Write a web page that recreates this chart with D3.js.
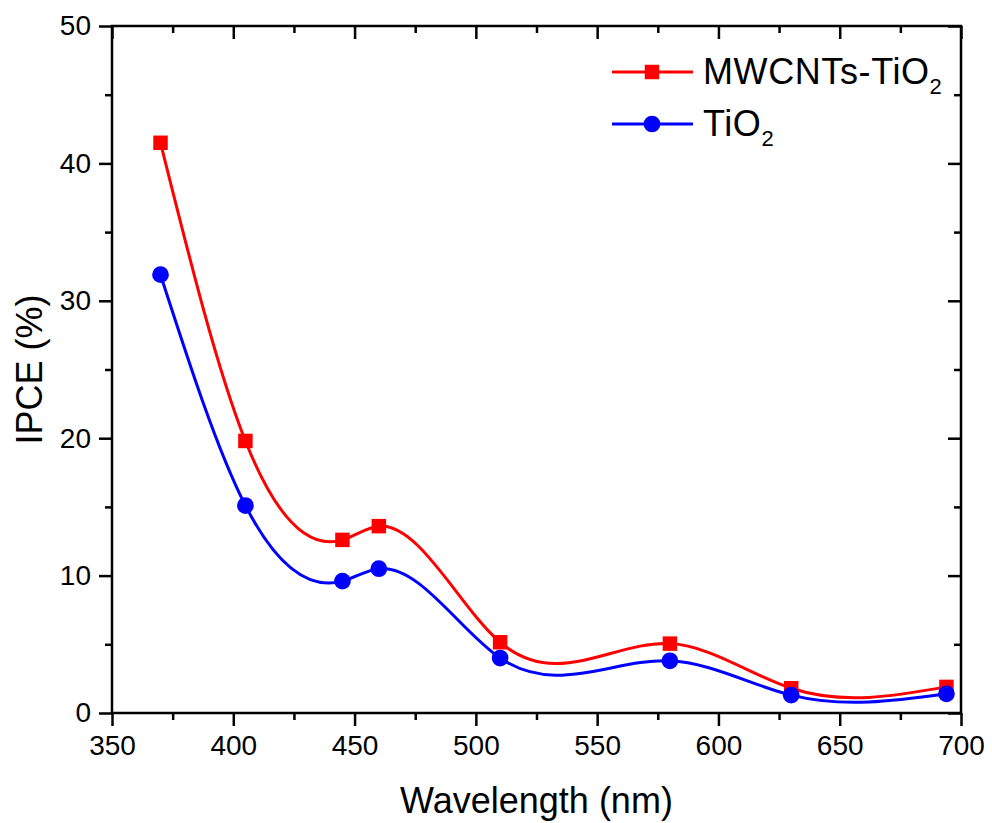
<!DOCTYPE html>
<html>
<head>
<meta charset="utf-8">
<script src="https://cdn.jsdelivr.net/npm/d3@7"></script>
<style>
  body { margin: 0; background: #fff; }
  svg { font-family: "Liberation Sans", Arial, sans-serif; }
</style>
</head>
<body>
<script>
// wavelengths (nm) and IPCE values (%)
const wavelength = [370, 405, 445, 460, 510, 580, 630, 694];
const ipceComposite = [41.5, 19.8, 12.6, 13.6, 5.15, 5.05, 1.8, 1.9];
const ipceTiO2 = [31.9, 15.1, 9.6, 10.5, 4.0, 3.8, 1.3, 1.4];
const xTicks = [350, 400, 450, 500, 550, 600, 650, 700];
const yTicks = [0, 10, 20, 30, 40, 50];

const width = 992, height = 823;
const margin = { top: 26, right: 31, bottom: 110, left: 112 };

// natural cubic spline y(x) as a d3 curve, drawn with exact bezier segments
function curveSplineX(context) {
    let xs, ys;
    return {
        areaStart() {}, areaEnd() {},
        lineStart() { xs = []; ys = []; },
        point(px, py) { xs.push(+px); ys.push(+py); },
        lineEnd() {
            const n = xs.length;
            if (!n) return;
            context.moveTo(xs[0], ys[0]);
            if (n < 3) { if (n === 2) context.lineTo(xs[1], ys[1]); return; }
            const h = [];
            for (let i = 0; i < n - 1; i++) h.push(xs[i + 1] - xs[i]);
            // solve for second derivatives (natural ends)
            const M = new Array(n).fill(0);
            const a = [], b = [], c = [], r = [];
            for (let i = 1; i < n - 1; i++) {
                a.push(h[i - 1]);
                b.push(2 * (h[i - 1] + h[i]));
                c.push(h[i]);
                r.push(6 * ((ys[i + 1] - ys[i]) / h[i] - (ys[i] - ys[i - 1]) / h[i - 1]));
            }
            const m = b.length;
            for (let i = 1; i < m; i++) {
                const w = a[i] / b[i - 1];
                b[i] -= w * c[i - 1];
                r[i] -= w * r[i - 1];
            }
            M[m] = r[m - 1] / b[m - 1];
            for (let i = m - 2; i >= 0; i--) M[i + 1] = (r[i] - c[i] * M[i + 2]) / b[i];
            for (let i = 0; i < n - 1; i++) {
                const s = (ys[i + 1] - ys[i]) / h[i];
                const d0 = s - h[i] * (2 * M[i] + M[i + 1]) / 6;
                const d1 = s + h[i] * (M[i] + 2 * M[i + 1]) / 6;
                context.bezierCurveTo(
                    xs[i] + h[i] / 3, ys[i] + d0 * h[i] / 3,
                    xs[i + 1] - h[i] / 3, ys[i + 1] - d1 * h[i] / 3,
                    xs[i + 1], ys[i + 1]);
            }
        }
    };
}

const svg = d3.select('body')
    .append('svg')
    .attr('width', width)
    .attr('height', height);

const x = d3.scaleLinear()
    .domain([350, 700])
    .range([margin.left, width - margin.right]);

const y = d3.scaleLinear()
    .domain([0, 50])
    .range([height - margin.bottom, margin.top]);

const x0 = x.range()[0], x1 = x.range()[1];
const y0 = y.range()[0], y1 = y.range()[1];

// minor ticks halfway between the majors
const xMinor = d3.range(375, 700, 50);
const yMinor = d3.range(5, 50, 10);

function styleAxis(g) {
    g.select('.domain').remove();
    g.selectAll('line').attr('stroke', '#000').attr('stroke-width', 2.5);
    g.selectAll('text').attr('font-size', 28).attr('fill', '#000');
}

// bottom
svg.append('g')
    .attr('transform', `translate(0,${y0})`)
    .call(d3.axisBottom(x).tickValues(xTicks).tickSize(13).tickPadding(9))
    .call(styleAxis);
svg.append('g')
    .attr('transform', `translate(0,${y0})`)
    .call(d3.axisBottom(x).tickValues(xMinor).tickSize(7).tickFormat(''))
    .call(styleAxis);

// left
svg.append('g')
    .attr('transform', `translate(${x0},0)`)
    .call(d3.axisLeft(y).tickValues(yTicks).tickSize(13).tickPadding(8))
    .call(styleAxis);
svg.append('g')
    .attr('transform', `translate(${x0},0)`)
    .call(d3.axisLeft(y).tickValues(yMinor).tickSize(7).tickFormat(''))
    .call(styleAxis);

// top, ticks pointing in
svg.append('g')
    .attr('transform', `translate(0,${y1})`)
    .call(d3.axisBottom(x).tickValues(xTicks).tickSize(13).tickFormat(''))
    .call(styleAxis);
svg.append('g')
    .attr('transform', `translate(0,${y1})`)
    .call(d3.axisBottom(x).tickValues(xMinor).tickSize(7).tickFormat(''))
    .call(styleAxis);

// right, ticks pointing in
svg.append('g')
    .attr('transform', `translate(${x1},0)`)
    .call(d3.axisLeft(y).tickValues(yTicks).tickSize(13).tickFormat(''))
    .call(styleAxis);
svg.append('g')
    .attr('transform', `translate(${x1},0)`)
    .call(d3.axisLeft(y).tickValues(yMinor).tickSize(7).tickFormat(''))
    .call(styleAxis);

// frame
svg.append('rect')
    .attr('x', x0)
    .attr('y', y1)
    .attr('width', x1 - x0)
    .attr('height', y0 - y1)
    .attr('fill', 'none')
    .attr('stroke', '#000')
    .attr('stroke-width', 2.5);

// axis titles
svg.append('text')
    .attr('x', (x0 + x1) / 2)
    .attr('y', 813)
    .attr('text-anchor', 'middle')
    .attr('font-size', 36)
    .text('Wavelength (nm)');

svg.append('text')
    .attr('transform', `translate(42,${(y0 + y1) / 2}) rotate(-90)`)
    .attr('text-anchor', 'middle')
    .attr('font-size', 36)
    .text('IPCE (%)');

const series = [
    { name: 'MWCNTs-TiO', values: ipceComposite, color: '#ff0000', marker: d3.symbolSquare, size: 210 },
    { name: 'TiO', values: ipceTiO2, color: '#0000ff', marker: d3.symbolCircle, size: 220 }
];

const line = d3.line()
    .x(d => x(d[0]))
    .y(d => y(d[1]))
    .curve(curveSplineX);

series.forEach(s => {
    const pts = wavelength.map((w, i) => [w, s.values[i]]);
    svg.append('path')
        .datum(pts)
        .attr('d', line)
        .attr('fill', 'none')
        .attr('stroke', s.color)
        .attr('stroke-width', 3);
    svg.selectAll(null)
        .data(pts)
        .enter()
        .append('path')
        .attr('transform', d => `translate(${x(d[0])},${y(d[1])})`)
        .attr('d', d3.symbol().type(s.marker).size(s.size))
        .attr('fill', s.color);
});

// legend
const legend = svg.append('g');
series.forEach((s, i) => {
    const ly = 72 + i * 52;
    legend.append('line')
        .attr('x1', 612).attr('x2', 693)
        .attr('y1', ly).attr('y2', ly)
        .attr('stroke', s.color)
        .attr('stroke-width', 3);
    legend.append('path')
        .attr('transform', `translate(652,${ly})`)
        .attr('d', d3.symbol().type(s.marker).size(s.size))
        .attr('fill', s.color);
    const t = legend.append('text')
        .attr('x', 703)
        .attr('y', ly + 12)
        .attr('font-size', 36)
        .attr('letter-spacing', 0.6);
    t.append('tspan').text(s.name);
    t.append('tspan')
        .attr('font-size', 22)
        .attr('dy', 10)
        .text('2');
});
</script>
</body>
</html>
